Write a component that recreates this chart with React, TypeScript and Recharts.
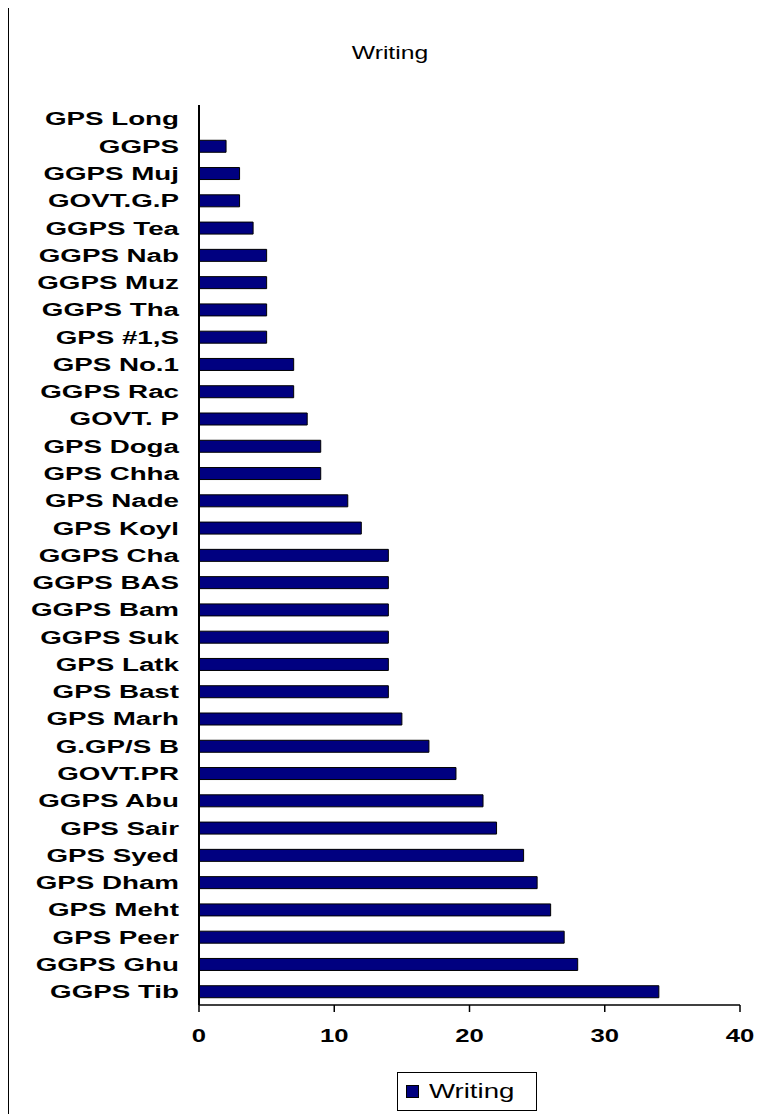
import React from "react";
import { BarChart, Bar, XAxis, YAxis } from "recharts";

const schools = [
  "GPS Long", "GGPS", "GGPS Muj", "GOVT.G.P", "GGPS Tea", "GGPS Nab", "GGPS Muz",
  "GGPS Tha", "GPS #1,S", "GPS No.1", "GGPS Rac", "GOVT. P", "GPS Doga", "GPS Chha",
  "GPS Nade", "GPS Koyl", "GGPS Cha", "GGPS BAS", "GGPS Bam", "GGPS Suk", "GPS Latk",
  "GPS Bast", "GPS Marh", "G.GP/S B", "GOVT.PR", "GGPS Abu", "GPS Sair", "GPS Syed",
  "GPS Dham", "GPS Meht", "GPS Peer", "GGPS Ghu", "GGPS Tib",
];
const writing = [
  0, 2, 3, 3, 4, 5, 5, 5, 5, 7, 7, 8, 9, 9, 11, 12, 14, 14, 14, 14, 14, 14, 15, 17,
  19, 21, 22, 24, 25, 26, 27, 28, 34,
];
const xTicks = [0, 10, 20, 30, 40];

const data = schools.map((name, i) => ({ name, Writing: writing[i] }));

const FONT = "'Liberation Sans', Arial, sans-serif";
const STRETCH = 1.46;
const NAVY = "#000080";

function YTick(props: any) {
  const { x, y, payload } = props;
  return (
    <text
      x={x}
      y={y}
      textAnchor="end"
      dominantBaseline="central"
      fontFamily={FONT}
      fontWeight="bold"
      fontSize={19}
      fill="#000"
      transform={`translate(${x},${y}) scale(${STRETCH},1) translate(${-x},${-y})`}
    >
      {payload.value}
    </text>
  );
}

function XTick(props: any) {
  const { x, y, payload } = props;
  return (
    <text
      x={x}
      y={y}
      textAnchor="middle"
      dy="0.72em"
      fontFamily={FONT}
      fontWeight="bold"
      fontSize={19}
      fill="#000"
      transform={`translate(${x},${y}) scale(1.35,1) translate(${-x},${-y})`}
    >
      {payload.value}
    </text>
  );
}

function LegendBox() {
  return (
    <div
      style={{
        position: "absolute",
        left: 388,
        top: 1064,
        boxSizing: "border-box",
        width: 140,
        height: 39,
        border: "1.5px solid #000",
        background: "#fff",
        display: "flex",
        alignItems: "center",
        paddingLeft: 8,
      }}
    >
      <span
        style={{
          width: 13,
          height: 13,
          background: NAVY,
          border: "1px solid #000",
          boxSizing: "border-box",
          marginRight: 10,
        }}
      />
      <span
        style={{
          fontFamily: FONT,
          fontSize: 20,
          display: "inline-block",
          transform: "scaleX(1.38)",
          transformOrigin: "left center",
        }}
      >
        Writing
      </span>
    </div>
  );
}

export default function App() {
  return (
    <div
      style={{
        position: "relative",
        width: 790,
        height: 1120,
        border: "2px solid #000",
        marginTop: -2,
        marginLeft: -1,
        background: "#fff",
      }}
    >
      <div
        style={{
          position: "absolute",
          left: 381,
          top: 45,
          transform: "translate(-50%, -50%) scaleX(1.3)",
          fontFamily: FONT,
          fontSize: 19,
          whiteSpace: "nowrap",
        }}
      >
        Writing
      </div>
      <BarChart
        width={790}
        height={1120}
        data={data}
        layout="vertical"
        barCategoryGap={0}
        margin={{ top: 97, right: 59, bottom: 83, left: 0 }}
      >
        <XAxis
          type="number"
          domain={[0, 40]}
          ticks={xTicks}
          interval={0}
          height={40}
          axisLine={{ stroke: "#000", strokeWidth: 1.5 }}
          tickLine={{ stroke: "#000", strokeWidth: 1.5 }}
          tickSize={7}
          tickMargin={16}
          tick={<XTick />}
        />
        <YAxis
          type="category"
          dataKey="name"
          width={190}
          interval={0}
          axisLine={{ stroke: "#000", strokeWidth: 2 }}
          tickLine={false}
          tickMargin={14}
          tick={<YTick />}
        />
        <Bar
          dataKey="Writing"
          fill={NAVY}
          stroke="#000"
          strokeWidth={1}
          barSize={12}
          isAnimationActive={false}
        />
      </BarChart>
      <LegendBox />
    </div>
  );
}
